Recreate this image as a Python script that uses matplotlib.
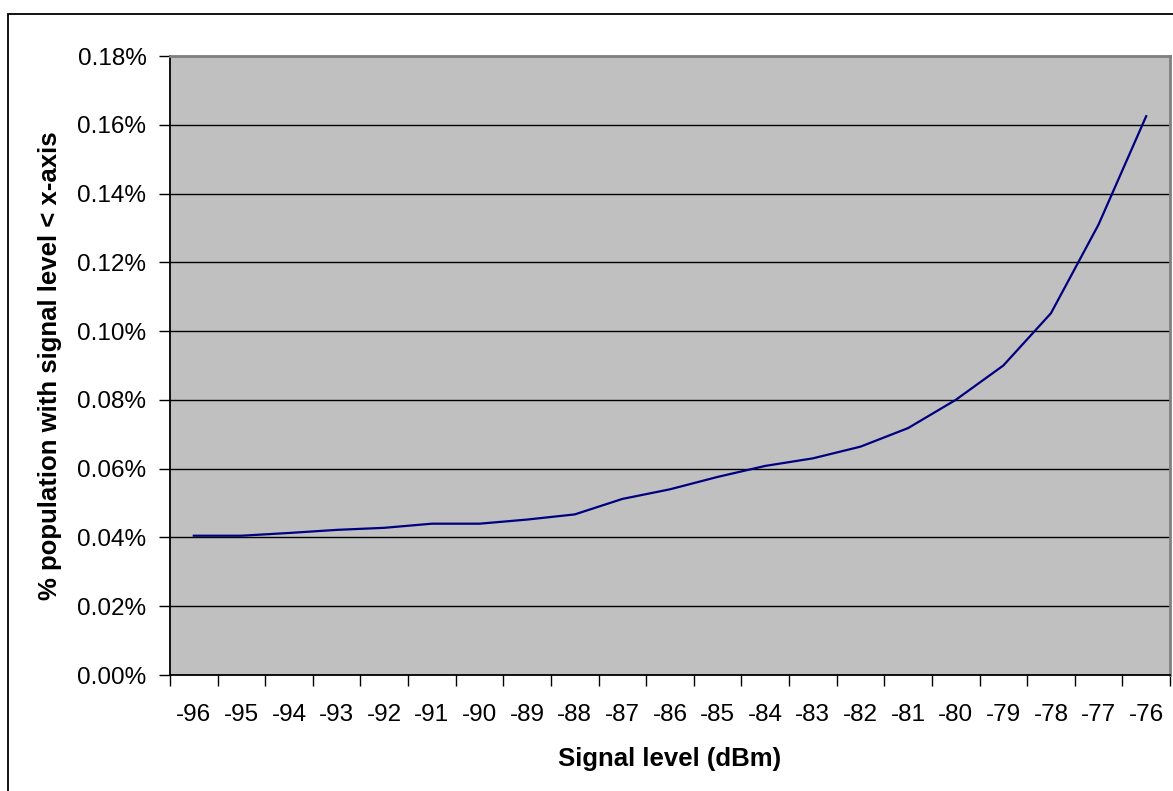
import matplotlib
matplotlib.use("Agg")
import matplotlib.pyplot as plt
from matplotlib.patches import Rectangle
from matplotlib.ticker import FixedLocator, FuncFormatter

plt.rcParams['font.family'] = ['Liberation Sans', 'DejaVu Sans']

# signal levels (dBm) and share of population below that level (%)
signal_levels = [-96, -95, -94, -93, -92, -91, -90, -89, -88, -87, -86,
                 -85, -84, -83, -82, -81, -80, -79, -78, -77, -76]
population_pct = [0.0405, 0.0405, 0.0413, 0.0422, 0.0428, 0.0440, 0.0440,
                  0.0452, 0.0467, 0.0512, 0.0540, 0.0576, 0.0608, 0.0630,
                  0.0664, 0.0718, 0.0800, 0.0900, 0.1052, 0.1310, 0.1625]
y_ticks = [0.00, 0.02, 0.04, 0.06, 0.08, 0.10, 0.12, 0.14, 0.16, 0.18]

W, H = 1173, 791
fig = plt.figure(figsize=(W / 100, H / 100), dpi=100)
fig.patch.set_facecolor('white')

# outer chart border (right/bottom run off the picture)
fig.add_artist(Rectangle((8 / W, -0.05), 1.2, 1 - 14 / H + 0.05,
                         transform=fig.transFigure, fill=False,
                         edgecolor='black', linewidth=1.3))

ax = fig.add_axes([170 / W, 1 - 675 / H, 1000 / W, (675 - 56) / H])
ax.set_facecolor('#C0C0C0')

x = list(range(len(signal_levels)))
ax.plot(x, population_pct, color='#000080', linewidth=1.6, zorder=3)

ax.set_xlim(-0.5, len(signal_levels) - 0.5)
ax.set_ylim(0, 0.18)

ax.yaxis.set_major_locator(FixedLocator(y_ticks))
ax.yaxis.set_major_formatter(FuncFormatter(lambda v, p: f"{v:.2f}%"))
ax.grid(axis='y', color='black', linewidth=1.0)
ax.set_axisbelow(True)

ax.set_xticks(x)
ax.set_xticklabels([str(s) for s in signal_levels])
ax.xaxis.set_minor_locator(FixedLocator([i - 0.5 for i in range(len(signal_levels) + 1)]))
ax.tick_params(axis='x', which='major', length=0, pad=21, labelsize=17.5)
ax.tick_params(axis='x', which='minor', length=8, width=1, direction='out')
ax.tick_params(axis='y', length=8, width=1, direction='out', pad=9, labelsize=17.5)

for side in ['left', 'bottom']:
    ax.spines[side].set_color('black')
    ax.spines[side].set_linewidth(1.3)
for side in ['top', 'right']:
    ax.spines[side].set_color('#808080')
    ax.spines[side].set_linewidth(2)

fig.text(670 / W, 1 - 759 / H, 'Signal level (dBm)', ha='center', va='center',
         fontsize=18.5, fontweight='bold')
fig.text(50 / W, 1 - 366 / H, '% population with signal level < x-axis',
         ha='center', va='center', rotation=90, fontsize=18.5, fontweight='bold')

fig.savefig('out.png', dpi=100)
